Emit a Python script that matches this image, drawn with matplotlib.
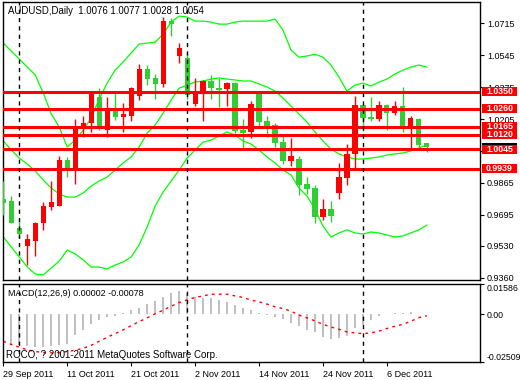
import numpy as np
import pandas as pd
import matplotlib
matplotlib.use('Agg')
import matplotlib.pyplot as plt
from matplotlib.patches import Rectangle
from matplotlib.transforms import blended_transform_factory

plt.rcParams['font.family'] = ['Liberation Sans', 'DejaVu Sans']

# daily bars, 29 Sep 2011 .. 13 Dec 2011
dates = pd.bdate_range('2011-09-29', '2011-12-13')

opens = [0.9777, 0.9768, 0.9623, 0.9530, 0.9557, 0.9652, 0.9738, 0.9743, 0.9987, 0.9945,
         1.0150, 1.0185, 1.0321, 1.0146, 1.0258, 1.0217, 1.0223, 1.0329, 1.0471, 1.0422,
         1.0392, 1.0729, 1.0541, 1.0529, 1.0285, 1.0342, 1.0409, 1.0370, 1.0363, 1.0395,
         1.0146, 1.0137, 1.0338, 1.0194, 1.0173, 1.0084, 0.9983, 0.9992, 0.9860, 0.9839,
         0.9684, 0.9724, 0.9812, 0.9892, 1.0019, 1.0280, 1.0217, 1.0205, 1.0280, 1.0239,
         1.0274, 1.0153, 1.0207, 1.0076]
highs = [0.9875, 0.9795, 0.9667, 0.9591, 0.9658, 0.9764, 0.9875, 1.0008, 1.0004, 1.0205,
         1.0221, 1.0340, 1.0369, 1.0324, 1.0347, 1.0292, 1.0374, 1.0497, 1.0493, 1.0445,
         1.0750, 1.0742, 1.0612, 1.0555, 1.0422, 1.0413, 1.0438, 1.0422, 1.0404, 1.0404,
         1.0205, 1.0301, 1.0340, 1.0221, 1.0185, 1.0114, 1.0102, 1.0008, 0.9896, 0.9853,
         0.9779, 0.9768, 0.9972, 1.0072, 1.0328, 1.0283, 1.0322, 1.0301, 1.0283, 1.0301,
         1.0374, 1.0219, 1.0212, 1.0077]
lows = [0.9693, 0.9650, 0.9569, 0.9427, 0.9475, 0.9614, 0.9720, 0.9740, 0.9898, 0.9857,
        1.0109, 1.0137, 1.0146, 1.0111, 1.0200, 1.0137, 1.0196, 1.0306, 1.0386, 1.0312,
        1.0374, 1.0647, 1.0502, 1.0312, 1.0274, 1.0196, 1.0310, 1.0271, 1.0274, 1.0132,
        1.0040, 1.0102, 1.0156, 1.0108, 1.0054, 0.9965, 0.9956, 0.9800, 0.9805, 0.9652,
        0.9667, 0.9658, 0.9779, 0.9853, 0.9937, 1.0143, 1.0196, 1.0194, 1.0146, 1.0226,
        1.0137, 1.0040, 1.0040, 1.0028]
closes = [0.9759, 0.9652, 0.9591, 0.9566, 0.9651, 0.9741, 0.9764, 0.9987, 0.9945, 1.0161,
          1.0182, 1.0337, 1.0150, 1.0257, 1.0217, 1.0232, 1.0369, 1.0471, 1.0418, 1.0392,
          1.0727, 1.0710, 1.0582, 1.0333, 1.0351, 1.0408, 1.0369, 1.0360, 1.0395, 1.0141,
          1.0132, 1.0285, 1.0191, 1.0168, 1.0079, 0.9983, 1.0008, 0.9853, 0.9832, 0.9684,
          0.9724, 0.9690, 0.9896, 1.0019, 1.0280, 1.0212, 1.0205, 1.0280, 1.0239, 1.0274,
          1.0153, 1.0212, 1.0066, 1.0054]

# Bollinger bands
bb_upper = [1.0610, 1.0567, 1.0525, 1.0482, 1.0440, 1.0344, 1.0232, 1.0162, 1.0056, 1.0093,
            1.0146, 1.0210, 1.0312, 1.0397, 1.0466, 1.0509, 1.0557, 1.0605, 1.0610, 1.0615,
            1.0658, 1.0722, 1.0754, 1.0749, 1.0727, 1.0727, 1.0722, 1.0711, 1.0711, 1.0722,
            1.0727, 1.0727, 1.0727, 1.0727, 1.0738, 1.0679, 1.0573, 1.0535, 1.0541, 1.0551,
            1.0535, 1.0493, 1.0429, 1.0354, 1.0386, 1.0397, 1.0381, 1.0402, 1.0418, 1.0445,
            1.0466, 1.0482, 1.0493, 1.0482]
bb_mid = [1.0088, 1.0040, 0.9997, 0.9965, 0.9928, 0.9880, 0.9837, 0.9805, 0.9789, 0.9789,
          0.9811, 0.9848, 0.9875, 0.9896, 0.9933, 0.9971, 1.0003, 1.0056, 1.0130, 1.0173,
          1.0237, 1.0306, 1.0370, 1.0386, 1.0402, 1.0408, 1.0418, 1.0424, 1.0418, 1.0413,
          1.0408, 1.0408, 1.0392, 1.0376, 1.0354, 1.0317, 1.0274, 1.0232, 1.0189, 1.0136,
          1.0088, 1.0045, 1.0019, 1.0003, 0.9992, 0.9992, 0.9997, 1.0003, 1.0013, 1.0019,
          1.0024, 1.0035, 1.0051, 1.0067]
bb_lower = [0.9576, 0.9523, 0.9470, 0.9416, 0.9379, 0.9374, 0.9411, 0.9448, 0.9507, 0.9486,
            0.9454, 0.9416, 0.9416, 0.9406, 0.9427, 0.9443, 0.9470, 0.9534, 0.9630, 0.9741,
            0.9816, 0.9875, 0.9933, 0.9997, 1.0040, 1.0082, 1.0093, 1.0114, 1.0136, 1.0120,
            1.0088, 1.0072, 1.0040, 1.0003, 0.9971, 0.9933, 0.9907, 0.9837, 0.9795, 0.9725,
            0.9635, 0.9576, 0.9598, 0.9614, 0.9598, 0.9592, 0.9603, 0.9598, 0.9587, 0.9576,
            0.9582, 0.9598, 0.9614, 0.9640]

# MACD(12,26,9)
macd_main = [-0.0150, -0.0154, -0.0163, -0.0168, -0.0172, -0.0172, -0.0168, -0.0163, -0.0154, -0.0110,
             -0.0084, -0.0053, -0.0032, -0.0016, -0.0007, 0.0007, 0.0021, 0.0035, 0.0053, 0.0070,
             0.0091, 0.0112, 0.0123, 0.0109, 0.0088, 0.0086, 0.0086, 0.0074, 0.0065, 0.0047,
             0.0030, 0.0021, 0.0007, -0.0002, -0.0014, -0.0026, -0.0044, -0.0063, -0.0081, -0.0093,
             -0.0119, -0.0131, -0.0124, -0.0114, -0.0075, -0.0058, -0.0032, -0.0012, -0.0001, 0.0004,
             0.0005, 0.0012, 0.0002, 0.00002]
macd_signal = [-0.0142, -0.0159, -0.0173, -0.0187, -0.0196, -0.0201, -0.0203, -0.0201, -0.0196, -0.0189,
               -0.0179, -0.0163, -0.0142, -0.0121, -0.0102, -0.0082, -0.0060, -0.0039, -0.0019, 0.0002,
               0.0021, 0.0042, 0.0061, 0.0075, 0.0088, 0.0096, 0.0105, 0.0105, 0.0105, 0.0096,
               0.0088, 0.0074, 0.0065, 0.0053, 0.0039, 0.0030, 0.0016, -0.0005, -0.0019, -0.0035,
               -0.0053, -0.0067, -0.0079, -0.0093, -0.0098, -0.0102, -0.0098, -0.0089, -0.0075, -0.0063,
               -0.0053, -0.0037, -0.0018, -0.00078]

levels = [1.0350, 1.0260, 1.0165, 1.0120, 1.0045, 0.9939]
last_price = 1.0054
price_ticks = [1.0715, 1.0545, 1.0375, 1.0205, 1.0035, 0.9865, 0.9695, 0.9530, 0.9360]
macd_ticks = [0.01586, 0.0, -0.02509]
macd_tick_labels = ['0.01586', '0.00', '-0.02509']

o = np.array(opens); h = np.array(highs); l = np.array(lows); c = np.array(closes)
x = np.arange(len(dates))

W, H = 520, 380
fig = plt.figure(figsize=(W / 100, H / 100), dpi=100)
left, right = 2.5 / W, 480 / W
ax = fig.add_axes([left, 1 - 280 / H, right - left, 278 / H])
ax2 = fig.add_axes([left, 1 - 362 / H, right - left, 78 / H])

fs = 6.5
red = '#ff0000'
green = '#32cd32'

# --- price panel
col = np.where(c >= o, red, green)
ax.vlines(x, l, h, colors=col, lw=1, zorder=3)
ax.bar(x, np.maximum(np.abs(c - o), 0.0004), bottom=np.minimum(o, c), width=0.65,
       color=col, lw=0, zorder=3)
ax.plot(x, bb_upper, color='#00ff00', lw=0.9, zorder=2)
ax.plot(x, bb_mid, color='#00ff00', lw=0.9, zorder=2)
ax.plot(x, bb_lower, color='#00ff00', lw=0.9, zorder=2)
for lv in levels:
    ax.axhline(lv, color=red, lw=2.2, zorder=4)

ax.set_xlim(-0.1, 59.65)
ax.set_ylim(0.9347, 1.0829)
ax.yaxis.tick_right()
ax.set_yticks(price_ticks)
ax.set_yticklabels([f'{t:.4f}' for t in price_ticks])
ax.tick_params(axis='y', length=3, width=0.8, pad=2, labelsize=fs, colors='black')
ax.tick_params(axis='x', bottom=False, labelbottom=False)

# month separators
sep = [i for i in range(1, len(dates)) if dates[i].month != dates[i - 1].month]
for a in (ax, ax2):
    for i in sep:
        a.axvline(i, color='black', lw=1, ls=(0, (3, 3)), zorder=5)
    for s in a.spines.values():
        s.set_linewidth(1)
        s.set_color('black')

# level labels on the price scale, later ones drawn over earlier ones
trans = blended_transform_factory(fig.transFigure, ax.transData)
bh = 9 * (1.0829 - 0.9347) / 278
fig.add_artist(Rectangle((482 / W, last_price - bh / 2), 35 / W, bh, transform=trans,
                         facecolor='black', edgecolor='none', zorder=1))
for k, lv in enumerate(levels):
    fig.add_artist(Rectangle((482 / W, lv - bh / 2), 35 / W, bh, transform=trans,
                             facecolor=red, edgecolor='none', zorder=2 + 2 * k))
    fig.text(499.5 / W, lv, f'{lv:.4f}', transform=trans, ha='center', va='center',
             color='white', fontsize=6.3, fontweight='bold', zorder=3 + 2 * k)

fig.text(8 / W, 1 - 11 / H, 'AUDUSD,Daily  1.0076 1.0077 1.0028 1.0054',
         ha='left', va='center', fontsize=6.9)

# --- MACD panel
ax2.bar(x, macd_main, width=0.2, color='#c0c0c0', lw=0)
ax2.plot(x, macd_signal, color=red, lw=1, ls=(0, (2, 3)))
ax2.set_xlim(-0.1, 59.65)
ax2.set_ylim(-0.02509, 0.01586)
ax2.yaxis.tick_right()
ax2.set_yticks(macd_ticks)
ax2.set_yticklabels(macd_tick_labels)
ax2.tick_params(axis='y', length=3, width=0.8, pad=1.5, labelsize=6.3)
yl = ax2.get_yticklabels()
yl[0].set_va('top')
yl[-1].set_va('bottom')

tick_idx = list(range(0, len(dates), 8))
ax2.set_xticks(tick_idx)
ax2.set_xticklabels([f'{dates[i].day} {dates[i].strftime("%b %Y")}' for i in tick_idx],
                    ha='left')
ax2.tick_params(axis='x', length=3, width=0.8, pad=3, labelsize=fs)

fig.text(8 / W, 1 - 294 / H, 'MACD(12,26,9) 0.00002 -0.00078', ha='left', va='center',
         fontsize=fs)
fig.text(6 / W, 1 - 355 / H, 'ROCO, ? 2001-2011 MetaQuotes Software Corp.', ha='left',
         va='center', fontsize=7.0)

fig.savefig('out.png', dpi=100)
